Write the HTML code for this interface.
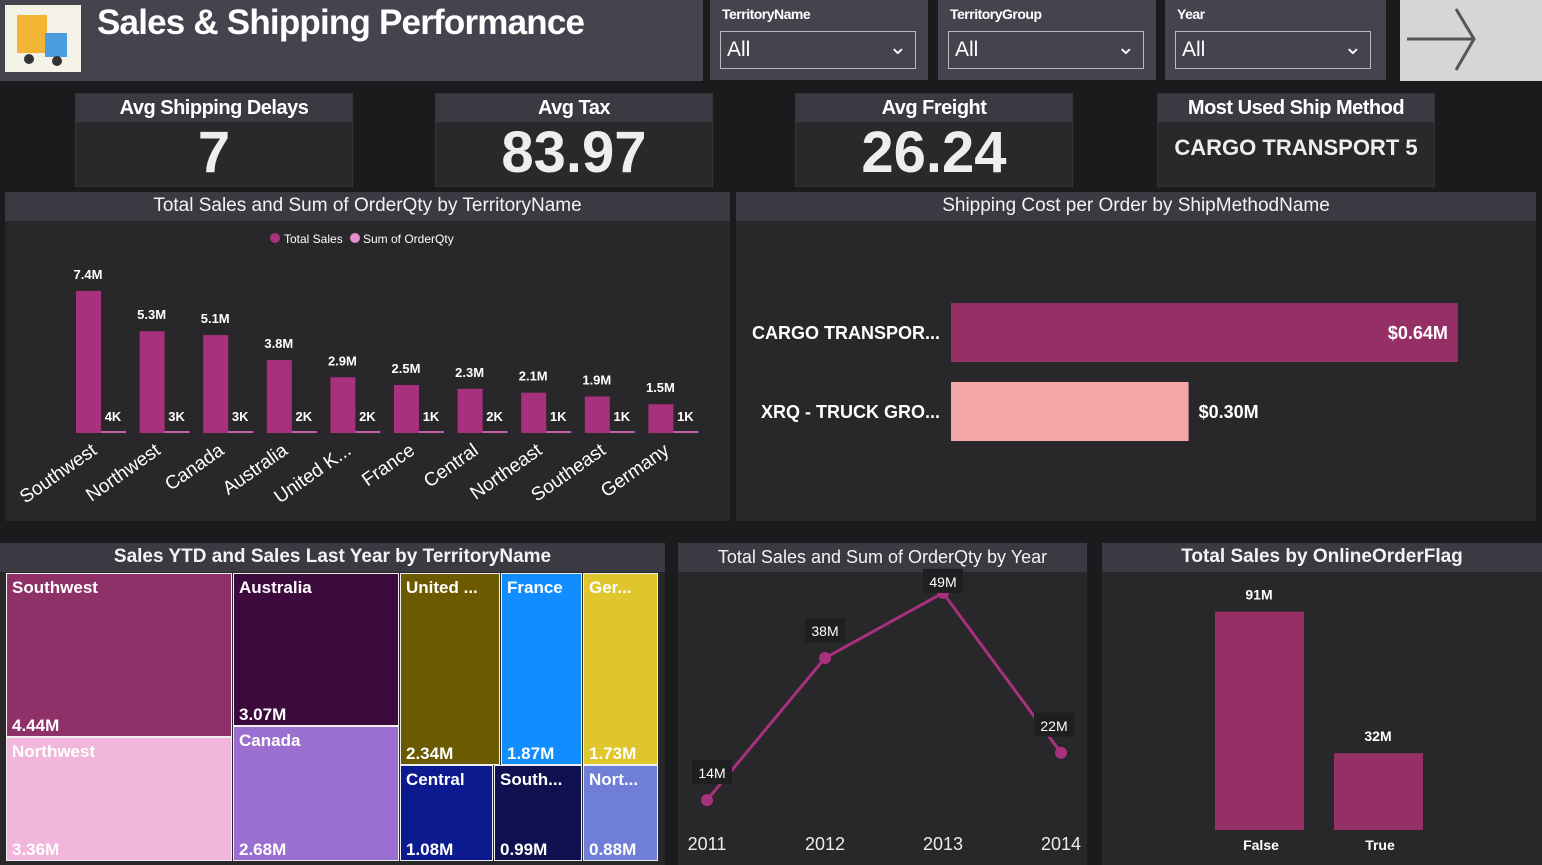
<!DOCTYPE html>
<html><head><meta charset="utf-8">
<style>
body{margin:0;width:1542px;height:865px;background:#1b1a1c;position:relative;overflow:hidden;font-family:"Liberation Sans",sans-serif;color:#fff}
div,span{box-sizing:border-box}
.abs{position:absolute}
.hdr{background:#45444e}
.slicer{position:absolute;top:0;height:80px;background:#45444e}
.slicer .lab{position:absolute;left:12px;top:6px;font-size:14px;font-weight:bold;letter-spacing:-0.5px}
.slicer .dd{position:absolute;left:10px;top:31px;width:196px;height:38px;border:1.5px solid #bbb;font-size:21px;padding:6px 0 0 6px}
.kpi{position:absolute;top:93px;height:94px;width:278px;background:#29292b;border:1px solid #333}
.kpi .t{height:28px;background:#3b3a43;text-align:center;font-weight:bold;font-size:20px;line-height:28px;letter-spacing:-0.5px}
.kpi .v{text-align:center;font-weight:bold;font-size:58px;line-height:62px;color:#eee;white-space:nowrap}
.panel{position:absolute;background:#282729}
.ptitle{height:29px;background:#3b3a43;text-align:center;font-size:19px;line-height:28px;color:#f3f3f3}
svg text{font-family:"Liberation Sans",sans-serif}
.tm{position:absolute;font-size:17px;font-weight:bold;color:#fff;padding:4px 5px;border:1px solid #eee}
.tm .b{position:absolute;left:5px;bottom:0;font-size:17px}
</style></head><body>
<div class="abs hdr" style="left:0;top:0;width:703px;height:81px"></div>
<div class="abs" style="left:5px;top:5px;width:76px;height:67px;background:#f4f1e6">
<svg width="76" height="67"><rect x="12" y="10" width="30" height="38" fill="#f2b533"/><rect x="40" y="28" width="22" height="24" fill="#4b9de0"/><circle cx="24" cy="54" r="5" fill="#333"/><circle cx="52" cy="56" r="5" fill="#333"/></svg></div>
<div class="abs" style="left:97px;top:3px;font-size:35px;font-weight:bold;letter-spacing:-0.8px">Sales &amp; Shipping Performance</div>

<div class="slicer" style="left:710px;width:218px"><div class="lab">TerritoryName</div><div class="dd">All<span style="position:absolute;right:8px;top:2px;font-size:22px">&#8964;</span></div></div>
<div class="slicer" style="left:938px;width:218px"><div class="lab">TerritoryGroup</div><div class="dd">All<span style="position:absolute;right:8px;top:2px;font-size:22px">&#8964;</span></div></div>
<div class="slicer" style="left:1165px;width:221px"><div class="lab">Year</div><div class="dd">All<span style="position:absolute;right:8px;top:2px;font-size:22px">&#8964;</span></div></div>
<div class="abs" style="left:1400px;top:0;width:142px;height:81px;background:#d6d6d6">
<svg width="142" height="81"><path d="M7 39 H74 M56 9 L74 39 L56 70" stroke="#555" stroke-width="3" fill="none"/></svg></div>

<div class="kpi" style="left:75px"><div class="t">Avg Shipping Delays</div><div class="v">7</div></div>
<div class="kpi" style="left:435px"><div class="t">Avg Tax</div><div class="v">83.97</div></div>
<div class="kpi" style="left:795px"><div class="t">Avg Freight</div><div class="v">26.24</div></div>
<div class="kpi" style="left:1157px"><div class="t">Most Used Ship Method</div><div class="v" style="font-size:22px;line-height:52px">CARGO TRANSPORT 5</div></div>

<div class="panel" style="left:5px;top:192px;width:725px;height:329px">
<div class="ptitle">Total Sales and Sum of OrderQty by TerritoryName</div>
<svg id="bar1" class="abs" style="left:0;top:0" width="725" height="329"></svg></div>

<div class="panel" style="left:736px;top:192px;width:800px;height:329px">
<div class="ptitle">Shipping Cost per Order by ShipMethodName</div>
<svg id="bar2" class="abs" style="left:0;top:0" width="800" height="329"></svg></div>

<div class="panel" style="left:0;top:543px;width:665px;height:322px">
<div class="ptitle" style="font-weight:bold">Sales YTD and Sales Last Year by TerritoryName</div></div>
<div id="tm"></div>

<div class="panel" style="left:678px;top:543px;width:409px;height:322px">
<div class="ptitle" style="font-size:18px">Total Sales and Sum of OrderQty by Year</div>
<svg id="line" class="abs" style="left:0;top:0" width="409" height="322"></svg></div>

<div class="panel" style="left:1102px;top:543px;width:440px;height:322px">
<div class="ptitle" style="font-weight:bold">Total Sales by OnlineOrderFlag</div>
<svg id="bar3" class="abs" style="left:0;top:0" width="440" height="322"></svg></div>

<script>
const NS='http://www.w3.org/2000/svg';
function mk(p,t,a,txt){const e=document.createElementNS(NS,t);for(const k in a)e.setAttribute(k,a[k]);if(txt!==undefined)e.textContent=txt;p.appendChild(e);return e;}

// Territory bar chart
const territories=['Southwest','Northwest','Canada','Australia','United K...','France','Central','Northeast','Southeast','Germany'];
const salesM=[7.4,5.3,5.1,3.8,2.9,2.5,2.3,2.1,1.9,1.5];
const qtyK=[4,3,3,2,2,1,2,1,1,1];
const b1=document.getElementById('bar1');
const x1=i=>71+i*63.6, base1=241, y1=v=>base1-v*19.2;
let lg=mk(b1,'circle',{cx:270,cy:46,r:5,fill:'#a8317d'});
mk(b1,'text',{x:279,y:51,'font-size':12,fill:'#fff'},'Total Sales');
lg=mk(b1,'circle',{cx:350,cy:46,r:5,fill:'#e58ccd'});
mk(b1,'text',{x:358,y:51,'font-size':12,fill:'#fff'},'Sum of OrderQty');
salesM.forEach((v,i)=>{
 const r=mk(b1,'rect',{x:x1(i),y:y1(v),width:25,height:v*19.2,fill:'#a8317d'});
 
 
 mk(b1,'text',{x:x1(i)+12,y:y1(v)-12,'font-size':13,'font-weight':'bold',fill:'#fff','text-anchor':'middle'},v+'M');
 const q=mk(b1,'rect',{x:x1(i)+25,y:base1-2,width:25,height:2+qtyK[i]*0.01,fill:'#c262a6'});
 
 
 mk(b1,'text',{x:x1(i)+37,y:base1-12,'font-size':13,'font-weight':'bold',fill:'#fff','text-anchor':'middle'},qtyK[i]+'K');
 mk(b1,'text',{x:x1(i)+22,y:base1+20,'font-size':19,fill:'#fff','text-anchor':'end',transform:`rotate(-35 ${x1(i)+22} ${base1+20})`},territories[i]);
});

// Shipping cost
const methods=['CARGO TRANSPOR...','XRQ - TRUCK GRO...'];
const costM=[0.64,0.30];
const colors2=['#952f66','#f4a6a8'];
const b2=document.getElementById('bar2');
costM.forEach((v,i)=>{
 const y=111+i*79,w=v*792;
 const r=mk(b2,'rect',{x:215,y:y,width:w,height:59,fill:colors2[i]});
 
 
 mk(b2,'text',{x:204,y:y+36,'font-size':18,'font-weight':'bold',fill:'#fff','text-anchor':'end'},methods[i]);
 const lbl='$'+v.toFixed(2)+'M';
 if(i===0)mk(b2,'text',{x:215+w-10,y:y+36,'font-size':18,'font-weight':'bold',fill:'#fff','text-anchor':'end'},lbl);
 else mk(b2,'text',{x:215+w+10,y:y+36,'font-size':18,'font-weight':'bold',fill:'#fff'},lbl);
});

// Treemap (layout boxes)
const tmNames=['Southwest','Northwest','Australia','Canada','United ...','France','Ger...','Central','South...','Nort...'];
const tmVals=['4.44M','3.36M','3.07M','2.68M','2.34M','1.87M','1.73M','1.08M','0.99M','0.88M'];
const tmBoxes=[[6,573,226,164,'#8e3168'],[6,737,226,124,'#f2b6dc'],[233,573,166,153,'#3d0a3e'],[233,726,166,135,'#9a6fd0'],[400,573,100,192,'#6b5a00'],[501,573,81,192,'#118dff'],[583,573,75,192,'#e0c62d'],[400,765,93,96,'#0b1a8f'],[494,765,88,96,'#0f1050'],[583,765,75,96,'#6f7ed6']];
const tm=document.getElementById('tm');
tmBoxes.forEach((b,i)=>{
 const d=document.createElement('div');d.className='tm';
 d.style.cssText=`left:${b[0]}px;top:${b[1]}px;width:${b[2]}px;height:${b[3]}px;background:${b[4]}`;
 
 
 d.innerHTML=tmNames[i]+'<span class="b">'+tmVals[i]+'</span>';
 tm.appendChild(d);
});

// Line chart
const years=['2011','2012','2013','2014'];
const yearSalesM=[14,38,49,22];
const ln=document.getElementById('line');
const lx=i=>29+i*118, ly=v=>340-v*5.92;
mk(ln,'polyline',{points:yearSalesM.map((v,i)=>lx(i)+','+ly(v)).join(' '),fill:'none',stroke:'#a8317d','stroke-width':3});
yearSalesM.forEach((v,i)=>{
 const c=mk(ln,'circle',{cx:lx(i),cy:ly(v),r:6,fill:'#a8317d'});
 
 
 const ty=ly(v)-(i===2?6:22);
 const dx=(i===0?5:0)+(i===3?-7:0);
 mk(ln,'rect',{x:lx(i)-20+dx,y:ty-18,width:40,height:24,fill:'#1f1e20'});
 mk(ln,'text',{x:lx(i)+dx,y:ty,'font-size':14,fill:'#fff','text-anchor':'middle'},v+'M');
 mk(ln,'text',{x:lx(i),y:307,'font-size':18,fill:'#eee','text-anchor':'middle'},years[i]);
});

// Online order flag
const flags=['False','True'];
const flagSalesM=[91,32];
const b3=document.getElementById('bar3');
flagSalesM.forEach((v,i)=>{
 const x=113+i*119,h=v*2.4,y=287-h;
 const r=mk(b3,'rect',{x:x,y:y,width:89,height:h,fill:'#952f66'});
 
 
 mk(b3,'text',{x:x+44,y:y-12,'font-size':14,'font-weight':'bold',fill:'#fff','text-anchor':'middle'},v+'M');
 mk(b3,'text',{x:x+46,y:307,'font-size':14,'font-weight':'bold',fill:'#fff','text-anchor':'middle'},flags[i]);
});
</script>
</body></html>
